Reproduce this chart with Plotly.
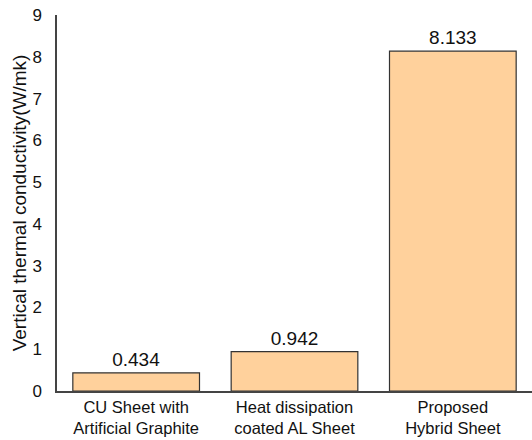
import plotly.graph_objects as go

categories = ["CU Sheet with<br>Artificial Graphite",
              "Heat dissipation<br>coated AL Sheet",
              "Proposed<br>Hybrid Sheet"]
values = [0.434, 0.942, 8.133]
value_labels = ["0.434", "0.942", "8.133"]
y_ticks = [0, 1, 2, 3, 4, 5, 6, 7, 8, 9]

fig = go.Figure(go.Bar(
    x=categories, y=values,
    text=value_labels, textposition="outside", cliponaxis=False,
    textfont=dict(size=19, color="#111"),
    marker=dict(color="#FFD19C", line=dict(color="#333", width=1.2)),
))
fig.update_layout(
    width=532, height=440,
    margin=dict(l=57, r=0, t=15, b=49, autoexpand=False),
    plot_bgcolor="white", paper_bgcolor="white",
    font=dict(family="Liberation Sans, Arial, sans-serif", size=16, color="#111"),
    bargap=0.2, showlegend=False,
)
fig.update_yaxes(range=[0, 9], tickvals=y_ticks, showgrid=False, zeroline=False,
                 showline=True, linecolor="#444", linewidth=1.5, ticks="",
                 tickfont=dict(size=17), ticklabelstandoff=10, automargin=False,
                 title=dict(text="Vertical thermal conductivity(W/mk)", font=dict(size=19), standoff=1))
fig.update_xaxes(showline=True, linecolor="#444", linewidth=1.5, ticks="",
                 tickfont=dict(size=16.5), range=[-0.5, 2.5], automargin=False)
fig.write_html("out.html", config={"displayModeBar": False},
               post_script="document.body.style.margin='0';document.body.style.overflow='hidden';")
